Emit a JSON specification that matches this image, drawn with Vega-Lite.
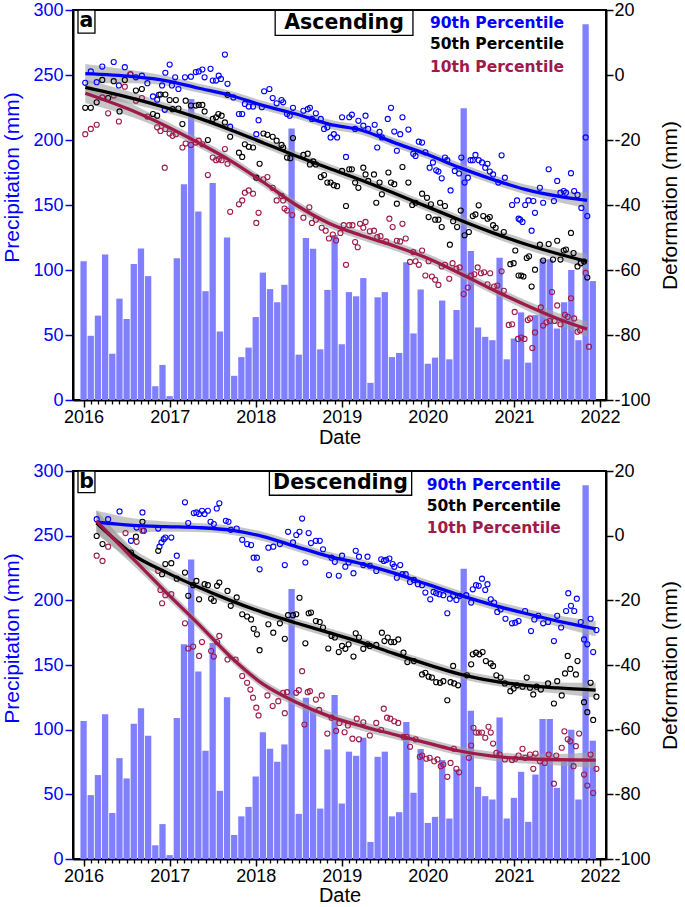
{
"$schema": "https://vega.github.io/schema/vega-lite/v6.json",
"background": "white",
"padding": {"left": 0, "top": 0, "right": 0, "bottom": 0},
"spacing": 13,
"config": {"view": {"stroke": "#000", "strokeWidth": 2}, "axis": {"labelFont": "Liberation Sans", "titleFont": "Liberation Sans", "grid": false}},
"datasets": {
"precip": [
{"t":2016,"p":106.7},{"t":2016.0833,"p":49.4},{"t":2016.1667,"p":64.9},{"t":2016.25,"p":112},{"t":2016.3333,"p":35.6},{"t":2016.4167,"p":78},{"t":2016.5,"p":62.3},{"t":2016.5833,"p":104.6},{"t":2016.6667,"p":116.5},{"t":2016.75,"p":95.3},{"t":2016.8333,"p":10.6},{"t":2016.9167,"p":27},
{"t":2017,"p":3},{"t":2017.0833,"p":109},{"t":2017.1667,"p":166},{"t":2017.25,"p":231.5},{"t":2017.3333,"p":145},{"t":2017.4167,"p":83.7},{"t":2017.5,"p":167},{"t":2017.5833,"p":52.7},{"t":2017.6667,"p":125},{"t":2017.75,"p":18.6},{"t":2017.8333,"p":33},{"t":2017.9167,"p":40.3},
{"t":2018,"p":63.8},{"t":2018.0833,"p":98},{"t":2018.1667,"p":85.3},{"t":2018.25,"p":75.2},{"t":2018.3333,"p":88.6},{"t":2018.4167,"p":208.8},{"t":2018.5,"p":34.9},{"t":2018.5833,"p":124.6},{"t":2018.6667,"p":116.3},{"t":2018.75,"p":39},{"t":2018.8333,"p":84.7},{"t":2018.9167,"p":126.9},
{"t":2019,"p":42.9},{"t":2019.0833,"p":83},{"t":2019.1667,"p":79.8},{"t":2019.25,"p":93.8},{"t":2019.3333,"p":13.2},{"t":2019.4167,"p":79},{"t":2019.5,"p":83},{"t":2019.5833,"p":33},{"t":2019.6667,"p":36.2},{"t":2019.75,"p":106},{"t":2019.8333,"p":51.2},{"t":2019.9167,"p":85},
{"t":2020,"p":27.9},{"t":2020.0833,"p":32.6},{"t":2020.1667,"p":76.5},{"t":2020.25,"p":31.3},{"t":2020.3333,"p":69.2},{"t":2020.4167,"p":224.5},{"t":2020.5,"p":114.7},{"t":2020.5833,"p":55.8},{"t":2020.6667,"p":48.6},{"t":2020.75,"p":46},{"t":2020.8333,"p":109.5},{"t":2020.9167,"p":31.3},
{"t":2021,"p":47.3},{"t":2021.0833,"p":67.4},{"t":2021.1667,"p":28.7},{"t":2021.25,"p":65.3},{"t":2021.3333,"p":108.3},{"t":2021.4167,"p":108.3},{"t":2021.5,"p":55},{"t":2021.5833,"p":75.2},{"t":2021.6667,"p":100},{"t":2021.75,"p":46},{"t":2021.8333,"p":289},{"t":2021.9167,"p":91.5}
],
"pts": [
{"g":"a","s":"90th","t":2016.019,"v":-2.4},{"g":"a","s":"90th","t":2016.084,"v":1.1},{"g":"a","s":"90th","t":2016.152,"v":-2.2},{"g":"a","s":"90th","t":2016.217,"v":2.6},{"g":"a","s":"90th","t":2016.35,"v":4.0},{"g":"a","s":"90th","t":2016.41,"v":-3.2},{"g":"a","s":"90th","t":2016.479,"v":2.4},{"g":"a","s":"90th","t":2016.544,"v":0.2},{"g":"a","s":"90th","t":2016.608,"v":-0.7},{"g":"a","s":"90th","t":2016.677,"v":-0.2},{"g":"a","s":"90th","t":2016.741,"v":-2.5},{"g":"a","s":"90th","t":2016.806,"v":-6.6},{"g":"a","s":"90th","t":2016.855,"v":-7.6},{"g":"a","s":"90th","t":2016.874,"v":-6.1},{"g":"a","s":"90th","t":2016.912,"v":-3.2},{"g":"a","s":"90th","t":2016.943,"v":-10.7},{"g":"a","s":"90th","t":2016.95,"v":0.7},{"g":"a","s":"90th","t":2017.0,"v":3.2},{"g":"a","s":"90th","t":2017.026,"v":-3.2},{"g":"a","s":"90th","t":2017.064,"v":-0.7},{"g":"a","s":"90th","t":2017.102,"v":-4.3},{"g":"a","s":"90th","t":2017.178,"v":-0.7},{"g":"a","s":"90th","t":2017.247,"v":-0.5},{"g":"a","s":"90th","t":2017.304,"v":0.9},{"g":"a","s":"90th","t":2017.338,"v":1.1},{"g":"a","s":"90th","t":2017.38,"v":1.7},{"g":"a","s":"90th","t":2017.406,"v":-0.7},{"g":"a","s":"90th","t":2017.475,"v":1.9},{"g":"a","s":"90th","t":2017.501,"v":-1.7},{"g":"a","s":"90th","t":2017.539,"v":-1.7},{"g":"a","s":"90th","t":2017.57,"v":-0.2},{"g":"a","s":"90th","t":2017.596,"v":-1.2},{"g":"a","s":"90th","t":2017.642,"v":6.3},{"g":"a","s":"90th","t":2017.672,"v":-2.7},{"g":"a","s":"90th","t":2017.703,"v":-15.9},{"g":"a","s":"90th","t":2017.741,"v":-6.9},{"g":"a","s":"90th","t":2017.805,"v":-12.0},{"g":"a","s":"90th","t":2017.843,"v":-12.0},{"g":"a","s":"90th","t":2017.874,"v":-8.9},{"g":"a","s":"90th","t":2017.919,"v":-9.7},{"g":"a","s":"90th","t":2017.969,"v":-9.7},{"g":"a","s":"90th","t":2018.007,"v":-18.2},{"g":"a","s":"90th","t":2018.033,"v":-13.9},{"g":"a","s":"90th","t":2018.071,"v":-9.9},{"g":"a","s":"90th","t":2018.098,"v":-5.0},{"g":"a","s":"90th","t":2018.159,"v":-4.3},{"g":"a","s":"90th","t":2018.197,"v":-7.1},{"g":"a","s":"90th","t":2018.243,"v":-8.7},{"g":"a","s":"90th","t":2018.3,"v":-7.7},{"g":"a","s":"90th","t":2018.319,"v":-8.4},{"g":"a","s":"90th","t":2018.364,"v":-12.0},{"g":"a","s":"90th","t":2018.395,"v":-12.5},{"g":"a","s":"90th","t":2018.433,"v":-10.1},{"g":"a","s":"90th","t":2018.554,"v":-11.0},{"g":"a","s":"90th","t":2018.604,"v":-10.5},{"g":"a","s":"90th","t":2018.63,"v":-10.1},{"g":"a","s":"90th","t":2018.653,"v":-13.5},{"g":"a","s":"90th","t":2018.699,"v":-11.8},{"g":"a","s":"90th","t":2018.756,"v":-13.5},{"g":"a","s":"90th","t":2018.794,"v":-16.6},{"g":"a","s":"90th","t":2018.832,"v":-16.1},{"g":"a","s":"90th","t":2018.87,"v":-19.2},{"g":"a","s":"90th","t":2018.908,"v":-18.2},{"g":"a","s":"90th","t":2018.946,"v":-19.2},{"g":"a","s":"90th","t":2019.003,"v":-13.0},{"g":"a","s":"90th","t":2019.049,"v":-25.2},{"g":"a","s":"90th","t":2019.087,"v":-13.0},{"g":"a","s":"90th","t":2019.117,"v":-12.2},{"g":"a","s":"90th","t":2019.155,"v":-16.6},{"g":"a","s":"90th","t":2019.193,"v":-14.1},{"g":"a","s":"90th","t":2019.25,"v":-15.6},{"g":"a","s":"90th","t":2019.276,"v":-12.5},{"g":"a","s":"90th","t":2019.307,"v":-16.6},
{"g":"a","s":"90th","t":2019.382,"v":-15.3},{"g":"a","s":"90th","t":2019.412,"v":-22.3},{"g":"a","s":"90th","t":2019.439,"v":-17.5},{"g":"a","s":"90th","t":2019.466,"v":-19.2},{"g":"a","s":"90th","t":2019.534,"v":-13.5},{"g":"a","s":"90th","t":2019.572,"v":-10.1},{"g":"a","s":"90th","t":2019.61,"v":-17.4},{"g":"a","s":"90th","t":2019.64,"v":-23.3},{"g":"a","s":"90th","t":2019.679,"v":-18.2},{"g":"a","s":"90th","t":2019.705,"v":-13.0},{"g":"a","s":"90th","t":2019.774,"v":-16.8},{"g":"a","s":"90th","t":2019.831,"v":-24.2},{"g":"a","s":"90th","t":2019.857,"v":-24.9},{"g":"a","s":"90th","t":2019.895,"v":-20.5},{"g":"a","s":"90th","t":2019.933,"v":-20.8},{"g":"a","s":"90th","t":2019.971,"v":-23.8},{"g":"a","s":"90th","t":2020.021,"v":-28.5},{"g":"a","s":"90th","t":2020.059,"v":-26.9},{"g":"a","s":"90th","t":2020.097,"v":-29.3},{"g":"a","s":"90th","t":2020.123,"v":-29.7},{"g":"a","s":"90th","t":2020.161,"v":-31.8},{"g":"a","s":"90th","t":2020.199,"v":-25.4},{"g":"a","s":"90th","t":2020.226,"v":-26.2},{"g":"a","s":"90th","t":2020.264,"v":-35.5},{"g":"a","s":"90th","t":2020.313,"v":-29.5},{"g":"a","s":"90th","t":2020.363,"v":-30.3},{"g":"a","s":"90th","t":2020.389,"v":-25.4},{"g":"a","s":"90th","t":2020.427,"v":-33.1},{"g":"a","s":"90th","t":2020.465,"v":-31.6},{"g":"a","s":"90th","t":2020.496,"v":-26.2},{"g":"a","s":"90th","t":2020.522,"v":-26.2},{"g":"a","s":"90th","t":2020.553,"v":-24.6},{"g":"a","s":"90th","t":2020.591,"v":-26.2},{"g":"a","s":"90th","t":2020.629,"v":-26.9},{"g":"a","s":"90th","t":2020.667,"v":-28.5},{"g":"a","s":"90th","t":2020.693,"v":-27.3},{"g":"a","s":"90th","t":2020.72,"v":-29.7},{"g":"a","s":"90th","t":2020.758,"v":-30.6},{"g":"a","s":"90th","t":2020.819,"v":-33.1},{"g":"a","s":"90th","t":2020.857,"v":-24.7},{"g":"a","s":"90th","t":2020.895,"v":-31.6},{"g":"a","s":"90th","t":2020.979,"v":-40.0},{"g":"a","s":"90th","t":2021.036,"v":-38.6},{"g":"a","s":"90th","t":2021.131,"v":-40.0},{"g":"a","s":"90th","t":2021.169,"v":-38.6},{"g":"a","s":"90th","t":2021.226,"v":-38.8},{"g":"a","s":"90th","t":2021.302,"v":-34.7},{"g":"a","s":"90th","t":2021.34,"v":-39.3},{"g":"a","s":"90th","t":2021.404,"v":-29.0},{"g":"a","s":"90th","t":2021.465,"v":-38.8},{"g":"a","s":"90th","t":2021.503,"v":-32.6},{"g":"a","s":"90th","t":2021.541,"v":-36.2},{"g":"a","s":"90th","t":2021.579,"v":-35.7},{"g":"a","s":"90th","t":2021.605,"v":-36.2},{"g":"a","s":"90th","t":2021.663,"v":-30.2},{"g":"a","s":"90th","t":2021.7,"v":-35.7},{"g":"a","s":"90th","t":2021.739,"v":-36.9},{"g":"a","s":"90th","t":2021.784,"v":-40.9},{"g":"a","s":"90th","t":2021.834,"v":-19.2},{"g":"a","s":"90th","t":2021.055,"v":-44.2},{"g":"a","s":"90th","t":2021.073,"v":-44.5},{"g":"a","s":"90th","t":2021.1,"v":-45.2},{"g":"a","s":"90th","t":2021.206,"v":-47.9},{"g":"a","s":"90th","t":2021.245,"v":-42.4},{"g":"a","s":"90th","t":2021.853,"v":-43.4},
{"g":"a","s":"50th","t":2016.019,"v":-10.1},{"g":"a","s":"50th","t":2016.084,"v":-10.1},{"g":"a","s":"50th","t":2016.152,"v":-8.4},{"g":"a","s":"50th","t":2016.217,"v":-1.5},{"g":"a","s":"50th","t":2016.285,"v":-7.1},{"g":"a","s":"50th","t":2016.35,"v":-1.9},{"g":"a","s":"50th","t":2016.418,"v":-11.2},{"g":"a","s":"50th","t":2016.479,"v":-1.5},{"g":"a","s":"50th","t":2016.608,"v":-4.8},{"g":"a","s":"50th","t":2016.677,"v":-4.3},{"g":"a","s":"50th","t":2016.806,"v":-12.0},{"g":"a","s":"50th","t":2016.855,"v":-12.5},{"g":"a","s":"50th","t":2016.893,"v":-6.0},{"g":"a","s":"50th","t":2016.95,"v":-6.0},{"g":"a","s":"50th","t":2017.0,"v":-7.7},{"g":"a","s":"50th","t":2017.034,"v":-10.5},{"g":"a","s":"50th","t":2017.072,"v":-7.7},{"g":"a","s":"50th","t":2017.102,"v":-10.3},{"g":"a","s":"50th","t":2017.148,"v":-15.1},{"g":"a","s":"50th","t":2017.186,"v":-7.9},{"g":"a","s":"50th","t":2017.247,"v":-9.4},{"g":"a","s":"50th","t":2017.304,"v":-9.4},{"g":"a","s":"50th","t":2017.338,"v":-9.2},{"g":"a","s":"50th","t":2017.38,"v":-9.2},{"g":"a","s":"50th","t":2017.406,"v":-11.2},{"g":"a","s":"50th","t":2017.444,"v":-20.0},{"g":"a","s":"50th","t":2017.501,"v":-13.5},{"g":"a","s":"50th","t":2017.539,"v":-13.0},{"g":"a","s":"50th","t":2017.566,"v":-12.0},{"g":"a","s":"50th","t":2017.604,"v":-12.5},{"g":"a","s":"50th","t":2017.642,"v":-14.6},{"g":"a","s":"50th","t":2017.672,"v":-6.1},{"g":"a","s":"50th","t":2017.703,"v":-19.0},{"g":"a","s":"50th","t":2017.805,"v":-23.9},{"g":"a","s":"50th","t":2017.843,"v":-25.2},{"g":"a","s":"50th","t":2017.874,"v":-21.3},{"g":"a","s":"50th","t":2017.919,"v":-22.1},{"g":"a","s":"50th","t":2017.969,"v":-22.3},{"g":"a","s":"50th","t":2018.007,"v":-31.6},{"g":"a","s":"50th","t":2018.045,"v":-27.3},{"g":"a","s":"50th","t":2018.09,"v":-18.0},{"g":"a","s":"50th","t":2018.136,"v":-18.4},{"g":"a","s":"50th","t":2018.197,"v":-19.0},{"g":"a","s":"50th","t":2018.243,"v":-20.2},{"g":"a","s":"50th","t":2018.3,"v":-21.5},{"g":"a","s":"50th","t":2018.319,"v":-22.3},{"g":"a","s":"50th","t":2018.364,"v":-25.4},{"g":"a","s":"50th","t":2018.402,"v":-25.6},{"g":"a","s":"50th","t":2018.433,"v":-19.4},{"g":"a","s":"50th","t":2018.554,"v":-24.6},{"g":"a","s":"50th","t":2018.604,"v":-24.2},{"g":"a","s":"50th","t":2018.63,"v":-27.5},{"g":"a","s":"50th","t":2018.668,"v":-26.6},{"g":"a","s":"50th","t":2018.699,"v":-27.5},{"g":"a","s":"50th","t":2018.756,"v":-31.4},{"g":"a","s":"50th","t":2018.794,"v":-30.8},{"g":"a","s":"50th","t":2018.832,"v":-33.1},{"g":"a","s":"50th","t":2018.87,"v":-33.1},{"g":"a","s":"50th","t":2018.908,"v":-33.9},{"g":"a","s":"50th","t":2018.946,"v":-34.2},{"g":"a","s":"50th","t":2019.003,"v":-29.5},{"g":"a","s":"50th","t":2019.049,"v":-40.3},{"g":"a","s":"50th","t":2019.087,"v":-29.0},{"g":"a","s":"50th","t":2019.117,"v":-29.0},{"g":"a","s":"50th","t":2019.155,"v":-33.1},{"g":"a","s":"50th","t":2019.193,"v":-34.7},{"g":"a","s":"50th","t":2019.25,"v":-28.5},{"g":"a","s":"50th","t":2019.276,"v":-30.6},{"g":"a","s":"50th","t":2019.307,"v":-32.6},
{"g":"a","s":"50th","t":2019.374,"v":-30.6},{"g":"a","s":"50th","t":2019.401,"v":-39.3},{"g":"a","s":"50th","t":2019.439,"v":-33.1},{"g":"a","s":"50th","t":2019.466,"v":-36.7},{"g":"a","s":"50th","t":2019.542,"v":-30.0},{"g":"a","s":"50th","t":2019.572,"v":-33.1},{"g":"a","s":"50th","t":2019.61,"v":-33.6},{"g":"a","s":"50th","t":2019.64,"v":-39.6},{"g":"a","s":"50th","t":2019.705,"v":-28.3},{"g":"a","s":"50th","t":2019.774,"v":-33.1},{"g":"a","s":"50th","t":2019.819,"v":-40.0},{"g":"a","s":"50th","t":2019.857,"v":-39.3},{"g":"a","s":"50th","t":2019.933,"v":-36.5},{"g":"a","s":"50th","t":2019.99,"v":-37.8},{"g":"a","s":"50th","t":2020.036,"v":-39.8},{"g":"a","s":"50th","t":2020.142,"v":-39.3},{"g":"a","s":"50th","t":2020.199,"v":-40.3},
{"g":"a","s":"50th","t":2020.009,"v":-43.7},{"g":"a","s":"50th","t":2020.085,"v":-44.5},{"g":"a","s":"50th","t":2020.123,"v":-44.5},{"g":"a","s":"50th","t":2020.161,"v":-46.8},{"g":"a","s":"50th","t":2020.256,"v":-52.2},{"g":"a","s":"50th","t":2020.294,"v":-45.0},{"g":"a","s":"50th","t":2020.34,"v":-46.8},{"g":"a","s":"50th","t":2020.382,"v":-41.7},{"g":"a","s":"50th","t":2020.427,"v":-49.3},{"g":"a","s":"50th","t":2020.477,"v":-48.3},{"g":"a","s":"50th","t":2020.522,"v":-43.4},{"g":"a","s":"50th","t":2020.553,"v":-42.9},{"g":"a","s":"50th","t":2020.591,"v":-40.1},{"g":"a","s":"50th","t":2020.644,"v":-43.4},{"g":"a","s":"50th","t":2020.693,"v":-44.2},{"g":"a","s":"50th","t":2020.72,"v":-43.7},{"g":"a","s":"50th","t":2020.758,"v":-46.2},{"g":"a","s":"50th","t":2020.788,"v":-47.0},{"g":"a","s":"50th","t":2020.883,"v":-48.3},{"g":"a","s":"50th","t":2020.959,"v":-58.2},{"g":"a","s":"50th","t":2020.997,"v":-57.9},{"g":"a","s":"50th","t":2021.016,"v":-54.0},{"g":"a","s":"50th","t":2021.054,"v":-61.7},{"g":"a","s":"50th","t":2021.085,"v":-61.7},{"g":"a","s":"50th","t":2021.111,"v":-62.0},{"g":"a","s":"50th","t":2021.149,"v":-56.3},{"g":"a","s":"50th","t":2021.176,"v":-55.8},{"g":"a","s":"50th","t":2021.206,"v":-65.1},{"g":"a","s":"50th","t":2021.245,"v":-59.9},{"g":"a","s":"50th","t":2021.302,"v":-52.2},{"g":"a","s":"50th","t":2021.34,"v":-57.1},{"g":"a","s":"50th","t":2021.404,"v":-52.0},{"g":"a","s":"50th","t":2021.454,"v":-56.8},{"g":"a","s":"50th","t":2021.503,"v":-51.0},{"g":"a","s":"50th","t":2021.541,"v":-56.8},{"g":"a","s":"50th","t":2021.579,"v":-54.0},{"g":"a","s":"50th","t":2021.605,"v":-53.7},{"g":"a","s":"50th","t":2021.663,"v":-48.6},{"g":"a","s":"50th","t":2021.693,"v":-54.8},{"g":"a","s":"50th","t":2021.739,"v":-58.9},{"g":"a","s":"50th","t":2021.777,"v":-57.9},{"g":"a","s":"50th","t":2021.815,"v":-57.4},{"g":"a","s":"50th","t":2021.853,"v":-62.3},
{"g":"a","s":"10th","t":2016.019,"v":-18.2},{"g":"a","s":"10th","t":2016.084,"v":-16.6},{"g":"a","s":"10th","t":2016.152,"v":-15.3},{"g":"a","s":"10th","t":2016.217,"v":-6.9},{"g":"a","s":"10th","t":2016.285,"v":-11.8},{"g":"a","s":"10th","t":2016.35,"v":-6.3},{"g":"a","s":"10th","t":2016.41,"v":-14.3},{"g":"a","s":"10th","t":2016.479,"v":-3.6},{"g":"a","s":"10th","t":2016.544,"v":0.2},{"g":"a","s":"10th","t":2016.608,"v":-7.9},{"g":"a","s":"10th","t":2016.677,"v":-7.1},{"g":"a","s":"10th","t":2016.741,"v":-12.8},{"g":"a","s":"10th","t":2016.855,"v":-16.1},{"g":"a","s":"10th","t":2016.893,"v":-17.2},{"g":"a","s":"10th","t":2016.943,"v":-28.5},{"g":"a","s":"10th","t":2016.95,"v":-16.6},{"g":"a","s":"10th","t":2017.0,"v":-18.0},{"g":"a","s":"10th","t":2017.034,"v":-18.7},{"g":"a","s":"10th","t":2017.072,"v":-18.2},{"g":"a","s":"10th","t":2017.148,"v":-22.3},{"g":"a","s":"10th","t":2017.186,"v":-21.1},{"g":"a","s":"10th","t":2017.247,"v":-21.5},{"g":"a","s":"10th","t":2017.304,"v":-20.8},{"g":"a","s":"10th","t":2017.338,"v":-20.2},{"g":"a","s":"10th","t":2017.38,"v":-21.3},{"g":"a","s":"10th","t":2017.444,"v":-30.8},{"g":"a","s":"10th","t":2017.501,"v":-25.4},{"g":"a","s":"10th","t":2017.539,"v":-26.2},{"g":"a","s":"10th","t":2017.57,"v":-25.9},{"g":"a","s":"10th","t":2017.604,"v":-26.2},{"g":"a","s":"10th","t":2017.642,"v":-22.8},{"g":"a","s":"10th","t":2017.672,"v":-27.3},{"g":"a","s":"10th","t":2017.805,"v":-39.8},{"g":"a","s":"10th","t":2017.843,"v":-38.6},{"g":"a","s":"10th","t":2017.874,"v":-36.2},{"g":"a","s":"10th","t":2017.919,"v":-35.5},{"g":"a","s":"10th","t":2017.969,"v":-36.5},{"g":"a","s":"10th","t":2018.09,"v":-32.1},{"g":"a","s":"10th","t":2018.136,"v":-31.4},{"g":"a","s":"10th","t":2018.197,"v":-34.7},{"g":"a","s":"10th","t":2018.243,"v":-38.6},{"g":"a","s":"10th","t":2018.3,"v":-37.2},{"g":"a","s":"10th","t":2018.319,"v":-38.6},
{"g":"a","s":"10th","t":2017.703,"v":-42.1},{"g":"a","s":"10th","t":2018.007,"v":-45.5},{"g":"a","s":"10th","t":2018.033,"v":-42.4},{"g":"a","s":"10th","t":2018.335,"v":-41.1},{"g":"a","s":"10th","t":2018.364,"v":-41.7},{"g":"a","s":"10th","t":2018.425,"v":-43.1},{"g":"a","s":"10th","t":2018.554,"v":-43.9},{"g":"a","s":"10th","t":2018.623,"v":-40.7},{"g":"a","s":"10th","t":2018.653,"v":-45.5},{"g":"a","s":"10th","t":2018.699,"v":-44.5},{"g":"a","s":"10th","t":2018.767,"v":-47.0},{"g":"a","s":"10th","t":2018.813,"v":-47.9},{"g":"a","s":"10th","t":2018.851,"v":-50.3},{"g":"a","s":"10th","t":2018.896,"v":-49.1},{"g":"a","s":"10th","t":2018.934,"v":-50.9},{"g":"a","s":"10th","t":2018.984,"v":-48.6},{"g":"a","s":"10th","t":2019.022,"v":-46.2},{"g":"a","s":"10th","t":2019.049,"v":-58.4},{"g":"a","s":"10th","t":2019.087,"v":-46.2},{"g":"a","s":"10th","t":2019.124,"v":-46.2},{"g":"a","s":"10th","t":2019.155,"v":-51.4},{"g":"a","s":"10th","t":2019.185,"v":-53.0},{"g":"a","s":"10th","t":2019.212,"v":-45.8},{"g":"a","s":"10th","t":2019.25,"v":-47.0},{"g":"a","s":"10th","t":2019.276,"v":-45.2},{"g":"a","s":"10th","t":2019.326,"v":-48.1},
{"g":"a","s":"10th","t":2019.374,"v":-47.9},{"g":"a","s":"10th","t":2019.412,"v":-49.9},{"g":"a","s":"10th","t":2019.45,"v":-49.6},{"g":"a","s":"10th","t":2019.515,"v":-51.2},{"g":"a","s":"10th","t":2019.553,"v":-44.2},{"g":"a","s":"10th","t":2019.591,"v":-46.8},{"g":"a","s":"10th","t":2019.64,"v":-51.0},{"g":"a","s":"10th","t":2019.679,"v":-51.2},{"g":"a","s":"10th","t":2019.705,"v":-45.8},{"g":"a","s":"10th","t":2019.743,"v":-50.3},{"g":"a","s":"10th","t":2019.793,"v":-57.5},{"g":"a","s":"10th","t":2019.831,"v":-54.5},{"g":"a","s":"10th","t":2019.857,"v":-57.3},{"g":"a","s":"10th","t":2019.895,"v":-58.4},{"g":"a","s":"10th","t":2019.933,"v":-54.0},{"g":"a","s":"10th","t":2019.971,"v":-61.7},{"g":"a","s":"10th","t":2020.009,"v":-57.3},{"g":"a","s":"10th","t":2020.047,"v":-62.0},{"g":"a","s":"10th","t":2020.085,"v":-63.0},{"g":"a","s":"10th","t":2020.123,"v":-64.6},{"g":"a","s":"10th","t":2020.161,"v":-58.9},{"g":"a","s":"10th","t":2020.199,"v":-58.4},{"g":"a","s":"10th","t":2020.249,"v":-62.7},{"g":"a","s":"10th","t":2020.287,"v":-57.9},{"g":"a","s":"10th","t":2020.332,"v":-59.6},{"g":"a","s":"10th","t":2020.37,"v":-59.2},{"g":"a","s":"10th","t":2020.416,"v":-67.4},{"g":"a","s":"10th","t":2020.465,"v":-65.4},{"g":"a","s":"10th","t":2020.503,"v":-61.7},{"g":"a","s":"10th","t":2020.541,"v":-61.3},{"g":"a","s":"10th","t":2020.579,"v":-59.2},{"g":"a","s":"10th","t":2020.617,"v":-61.0},{"g":"a","s":"10th","t":2020.655,"v":-60.7},{"g":"a","s":"10th","t":2020.693,"v":-64.4},{"g":"a","s":"10th","t":2020.724,"v":-61.0},{"g":"a","s":"10th","t":2020.769,"v":-65.1},{"g":"a","s":"10th","t":2020.807,"v":-64.8},{"g":"a","s":"10th","t":2020.857,"v":-60.4},{"g":"a","s":"10th","t":2020.883,"v":-66.4},{"g":"a","s":"10th","t":2020.94,"v":-76.9},{"g":"a","s":"10th","t":2020.979,"v":-76.7},{"g":"a","s":"10th","t":2021.009,"v":-72.9},{"g":"a","s":"10th","t":2021.047,"v":-81.2},{"g":"a","s":"10th","t":2021.085,"v":-80.8},{"g":"a","s":"10th","t":2021.123,"v":-81.2},{"g":"a","s":"10th","t":2021.161,"v":-75.4},{"g":"a","s":"10th","t":2021.187,"v":-74.9},{"g":"a","s":"10th","t":2021.214,"v":-84.0},{"g":"a","s":"10th","t":2021.245,"v":-79.2},{"g":"a","s":"10th","t":2021.313,"v":-71.5},{"g":"a","s":"10th","t":2021.34,"v":-77.1},{"g":"a","s":"10th","t":2021.378,"v":-76.1},{"g":"a","s":"10th","t":2021.416,"v":-75.7},{"g":"a","s":"10th","t":2021.442,"v":-66.8},{"g":"a","s":"10th","t":2021.473,"v":-75.7},{"g":"a","s":"10th","t":2021.503,"v":-70.9},{"g":"a","s":"10th","t":2021.541,"v":-76.7},{"g":"a","s":"10th","t":2021.594,"v":-73.8},{"g":"a","s":"10th","t":2021.625,"v":-74.4},{"g":"a","s":"10th","t":2021.663,"v":-68.7},{"g":"a","s":"10th","t":2021.7,"v":-74.9},{"g":"a","s":"10th","t":2021.739,"v":-79.0},{"g":"a","s":"10th","t":2021.769,"v":-78.5},{"g":"a","s":"10th","t":2021.834,"v":-60.9},{"g":"a","s":"10th","t":2021.872,"v":-83.6},
{"g":"b","s":"90th","t":2016.152,"v":5.1},{"g":"b","s":"90th","t":2016.285,"v":5.1},{"g":"b","s":"90th","t":2016.418,"v":7.5},{"g":"b","s":"90th","t":2016.551,"v":-1.6},{"g":"b","s":"90th","t":2016.616,"v":2.5},{"g":"b","s":"90th","t":2016.684,"v":7.2},{"g":"b","s":"90th","t":2016.7,"v":1.5},{"g":"b","s":"90th","t":2016.867,"v":2.2},{"g":"b","s":"90th","t":2016.882,"v":-3.4},{"g":"b","s":"90th","t":2016.905,"v":-2.1},{"g":"b","s":"90th","t":2016.931,"v":-1.1},{"g":"b","s":"90th","t":2016.95,"v":-0.6},{"g":"b","s":"90th","t":2017.019,"v":-0.6},{"g":"b","s":"90th","t":2017.083,"v":-6.2},{"g":"b","s":"90th","t":2017.178,"v":10.3},{"g":"b","s":"90th","t":2017.216,"v":3.9},{"g":"b","s":"90th","t":2017.281,"v":7.0},{"g":"b","s":"90th","t":2017.311,"v":7.2},{"g":"b","s":"90th","t":2017.342,"v":6.7},{"g":"b","s":"90th","t":2017.376,"v":7.7},{"g":"b","s":"90th","t":2017.406,"v":6.7},{"g":"b","s":"90th","t":2017.444,"v":7.7},{"g":"b","s":"90th","t":2017.475,"v":4.3},{"g":"b","s":"90th","t":2017.513,"v":3.6},{"g":"b","s":"90th","t":2017.547,"v":8.4},{"g":"b","s":"90th","t":2017.577,"v":10.0},{"g":"b","s":"90th","t":2017.653,"v":4.6},{"g":"b","s":"90th","t":2017.684,"v":4.3},{"g":"b","s":"90th","t":2017.71,"v":1.8},{"g":"b","s":"90th","t":2017.779,"v":2.2},{"g":"b","s":"90th","t":2017.843,"v":-1.3},{"g":"b","s":"90th","t":2017.9,"v":-2.6},{"g":"b","s":"90th","t":2017.946,"v":-2.9},{"g":"b","s":"90th","t":2017.976,"v":-6.8},{"g":"b","s":"90th","t":2018.014,"v":-6.8},{"g":"b","s":"90th","t":2018.045,"v":-10.4},{"g":"b","s":"90th","t":2018.147,"v":-3.7},{"g":"b","s":"90th","t":2018.204,"v":-3.4},{"g":"b","s":"90th","t":2018.281,"v":-2.6},{"g":"b","s":"90th","t":2018.338,"v":-9.1},{"g":"b","s":"90th","t":2018.376,"v":1.2},{"g":"b","s":"90th","t":2018.433,"v":-2.1},{"g":"b","s":"90th","t":2018.471,"v":0.2},{"g":"b","s":"90th","t":2018.509,"v":1.2},{"g":"b","s":"90th","t":2018.539,"v":5.3},{"g":"b","s":"90th","t":2018.577,"v":-8.3},{"g":"b","s":"90th","t":2018.615,"v":0.8},{"g":"b","s":"90th","t":2018.642,"v":-2.3},{"g":"b","s":"90th","t":2018.699,"v":-1.6},{"g":"b","s":"90th","t":2018.744,"v":-1.6},{"g":"b","s":"90th","t":2018.782,"v":-4.2},{"g":"b","s":"90th","t":2018.851,"v":-12.2},{"g":"b","s":"90th","t":2018.881,"v":-6.8},{"g":"b","s":"90th","t":2018.919,"v":-8.1},{"g":"b","s":"90th","t":2018.965,"v":-12.4},{"g":"b","s":"90th","t":2019.003,"v":-6.2},{"g":"b","s":"90th","t":2019.041,"v":-9.6},{"g":"b","s":"90th","t":2019.079,"v":-8.3},{"g":"b","s":"90th","t":2019.136,"v":-11.6},{"g":"b","s":"90th","t":2019.162,"v":-4.7},{"g":"b","s":"90th","t":2019.2,"v":-6.5},{"g":"b","s":"90th","t":2019.25,"v":-9.1},{"g":"b","s":"90th","t":2019.299,"v":-6.5},{"g":"b","s":"90th","t":2019.326,"v":-9.3},
{"g":"b","s":"90th","t":2019.401,"v":-10.9},{"g":"b","s":"90th","t":2019.458,"v":-7.3},{"g":"b","s":"90th","t":2019.488,"v":-7.8},{"g":"b","s":"90th","t":2019.515,"v":-7.5},{"g":"b","s":"90th","t":2019.553,"v":-7.1},{"g":"b","s":"90th","t":2019.591,"v":-8.8},{"g":"b","s":"90th","t":2019.61,"v":-9.6},{"g":"b","s":"90th","t":2019.64,"v":-13.0},{"g":"b","s":"90th","t":2019.679,"v":-9.1},{"g":"b","s":"90th","t":2019.705,"v":-11.9},{"g":"b","s":"90th","t":2019.743,"v":-11.9},{"g":"b","s":"90th","t":2019.793,"v":-14.3},{"g":"b","s":"90th","t":2019.838,"v":-13.7},{"g":"b","s":"90th","t":2019.884,"v":-15.0},{"g":"b","s":"90th","t":2019.933,"v":-15.3},{"g":"b","s":"90th","t":2019.971,"v":-17.6},{"g":"b","s":"90th","t":2020.028,"v":-19.7},{"g":"b","s":"90th","t":2020.066,"v":-17.4},{"g":"b","s":"90th","t":2020.097,"v":-17.8},{"g":"b","s":"90th","t":2020.135,"v":-18.1},{"g":"b","s":"90th","t":2020.18,"v":-18.4},{"g":"b","s":"90th","t":2020.226,"v":-24.0},{"g":"b","s":"90th","t":2020.256,"v":-19.5},{"g":"b","s":"90th","t":2020.294,"v":-18.6},{"g":"b","s":"90th","t":2020.332,"v":-19.9},{"g":"b","s":"90th","t":2020.37,"v":-18.6},{"g":"b","s":"90th","t":2020.446,"v":-18.4},{"g":"b","s":"90th","t":2020.503,"v":-20.7},{"g":"b","s":"90th","t":2020.522,"v":-16.6},{"g":"b","s":"90th","t":2020.56,"v":-15.3},{"g":"b","s":"90th","t":2020.591,"v":-15.5},{"g":"b","s":"90th","t":2020.629,"v":-13.3},{"g":"b","s":"90th","t":2020.667,"v":-16.8},{"g":"b","s":"90th","t":2020.693,"v":-15.0},{"g":"b","s":"90th","t":2020.731,"v":-19.7},{"g":"b","s":"90th","t":2020.769,"v":-20.7},{"g":"b","s":"90th","t":2020.807,"v":-23.6},{"g":"b","s":"90th","t":2020.845,"v":-22.8},{"g":"b","s":"90th","t":2020.902,"v":-25.7},{"g":"b","s":"90th","t":2020.978,"v":-27.1},{"g":"b","s":"90th","t":2021.016,"v":-26.9},{"g":"b","s":"90th","t":2021.054,"v":-26.4},{"g":"b","s":"90th","t":2021.13,"v":-23.3},{"g":"b","s":"90th","t":2021.199,"v":-29.5},{"g":"b","s":"90th","t":2021.237,"v":-25.9},{"g":"b","s":"90th","t":2021.283,"v":-24.8},{"g":"b","s":"90th","t":2021.34,"v":-27.1},{"g":"b","s":"90th","t":2021.397,"v":-26.7},{"g":"b","s":"90th","t":2021.465,"v":-32.6},{"g":"b","s":"90th","t":2021.503,"v":-24.8},{"g":"b","s":"90th","t":2021.549,"v":-28.4},{"g":"b","s":"90th","t":2021.606,"v":-23.3},{"g":"b","s":"90th","t":2021.632,"v":-17.8},{"g":"b","s":"90th","t":2021.663,"v":-21.7},{"g":"b","s":"90th","t":2021.701,"v":-23.3},{"g":"b","s":"90th","t":2021.731,"v":-19.5},{"g":"b","s":"90th","t":2021.777,"v":-26.7},{"g":"b","s":"90th","t":2021.815,"v":-32.1},{"g":"b","s":"90th","t":2021.853,"v":-33.6},{"g":"b","s":"90th","t":2021.891,"v":-25.7},{"g":"b","s":"90th","t":2021.921,"v":-36.0},{"g":"b","s":"90th","t":2021.959,"v":-29.2},
{"g":"b","s":"50th","t":2016.152,"v":-0.1},{"g":"b","s":"50th","t":2016.22,"v":-2.6},{"g":"b","s":"50th","t":2016.551,"v":-5.2},{"g":"b","s":"50th","t":2016.608,"v":-0.3},{"g":"b","s":"50th","t":2016.684,"v":4.3},{"g":"b","s":"50th","t":2016.867,"v":-4.7},{"g":"b","s":"50th","t":2016.912,"v":-11.9},{"g":"b","s":"50th","t":2016.95,"v":-8.8},{"g":"b","s":"50th","t":2017.019,"v":-8.5},{"g":"b","s":"50th","t":2017.083,"v":-13.3},{"g":"b","s":"50th","t":2017.178,"v":-11.4},{"g":"b","s":"50th","t":2017.216,"v":-18.6},{"g":"b","s":"50th","t":2017.273,"v":-15.3},{"g":"b","s":"50th","t":2017.311,"v":-14.0},{"g":"b","s":"50th","t":2017.342,"v":-19.7},{"g":"b","s":"50th","t":2017.406,"v":-15.0},{"g":"b","s":"50th","t":2017.444,"v":-15.3},{"g":"b","s":"50th","t":2017.482,"v":-19.5},{"g":"b","s":"50th","t":2017.513,"v":-20.2},{"g":"b","s":"50th","t":2017.551,"v":-15.5},{"g":"b","s":"50th","t":2017.577,"v":-14.5},{"g":"b","s":"50th","t":2017.672,"v":-17.1},{"g":"b","s":"50th","t":2017.71,"v":-21.7},{"g":"b","s":"50th","t":2017.779,"v":-19.1},{"g":"b","s":"50th","t":2017.843,"v":-24.3},{"g":"b","s":"50th","t":2017.9,"v":-25.0},{"g":"b","s":"50th","t":2017.946,"v":-25.9},{"g":"b","s":"50th","t":2017.976,"v":-28.8},{"g":"b","s":"50th","t":2018.014,"v":-30.5},{"g":"b","s":"50th","t":2018.045,"v":-35.4},{"g":"b","s":"50th","t":2018.147,"v":-27.4},{"g":"b","s":"50th","t":2018.204,"v":-30.0},{"g":"b","s":"50th","t":2018.281,"v":-27.1},{"g":"b","s":"50th","t":2018.338,"v":-31.9},{"g":"b","s":"50th","t":2018.376,"v":-24.6},{"g":"b","s":"50th","t":2018.433,"v":-24.6},{"g":"b","s":"50th","t":2018.471,"v":-24.3},{"g":"b","s":"50th","t":2018.509,"v":-19.2},{"g":"b","s":"50th","t":2018.577,"v":-33.3},{"g":"b","s":"50th","t":2018.615,"v":-24.0},{"g":"b","s":"50th","t":2018.642,"v":-23.8},{"g":"b","s":"50th","t":2018.699,"v":-26.4},{"g":"b","s":"50th","t":2018.744,"v":-26.7},{"g":"b","s":"50th","t":2018.782,"v":-28.4},{"g":"b","s":"50th","t":2018.843,"v":-34.9},{"g":"b","s":"50th","t":2018.881,"v":-31.0},{"g":"b","s":"50th","t":2018.919,"v":-31.5},{"g":"b","s":"50th","t":2018.965,"v":-36.0},{"g":"b","s":"50th","t":2019.003,"v":-34.1},{"g":"b","s":"50th","t":2019.041,"v":-35.0},{"g":"b","s":"50th","t":2019.079,"v":-33.6},{"g":"b","s":"50th","t":2019.136,"v":-37.4},{"g":"b","s":"50th","t":2019.162,"v":-30.2},{"g":"b","s":"50th","t":2019.2,"v":-31.5},{"g":"b","s":"50th","t":2019.25,"v":-35.0},{"g":"b","s":"50th","t":2019.299,"v":-33.6},{"g":"b","s":"50th","t":2019.326,"v":-34.1},
{"g":"b","s":"50th","t":2019.401,"v":-33.8},{"g":"b","s":"50th","t":2019.466,"v":-30.0},{"g":"b","s":"50th","t":2019.496,"v":-32.6},{"g":"b","s":"50th","t":2019.534,"v":-31.5},{"g":"b","s":"50th","t":2019.572,"v":-32.9},{"g":"b","s":"50th","t":2019.61,"v":-32.9},{"g":"b","s":"50th","t":2019.656,"v":-32.1},{"g":"b","s":"50th","t":2019.717,"v":-36.2},{"g":"b","s":"50th","t":2019.762,"v":-39.1},{"g":"b","s":"50th","t":2019.838,"v":-38.8},{"g":"b","s":"50th","t":2020.294,"v":-40.3},{"g":"b","s":"50th","t":2020.522,"v":-36.7},{"g":"b","s":"50th","t":2020.56,"v":-36.2},{"g":"b","s":"50th","t":2020.598,"v":-36.7},{"g":"b","s":"50th","t":2020.636,"v":-36.0},{"g":"b","s":"50th","t":2020.674,"v":-38.8},{"g":"b","s":"50th","t":2020.731,"v":-39.5},{"g":"b","s":"50th","t":2021.625,"v":-37.2},{"g":"b","s":"50th","t":2021.739,"v":-38.8},
{"g":"b","s":"50th","t":2019.933,"v":-42.9},{"g":"b","s":"50th","t":2019.971,"v":-42.4},{"g":"b","s":"50th","t":2020.009,"v":-43.6},{"g":"b","s":"50th","t":2020.047,"v":-43.9},{"g":"b","s":"50th","t":2020.097,"v":-45.3},{"g":"b","s":"50th","t":2020.142,"v":-45.5},{"g":"b","s":"50th","t":2020.18,"v":-45.0},{"g":"b","s":"50th","t":2020.226,"v":-50.9},{"g":"b","s":"50th","t":2020.264,"v":-45.3},{"g":"b","s":"50th","t":2020.306,"v":-45.7},{"g":"b","s":"50th","t":2020.351,"v":-46.3},{"g":"b","s":"50th","t":2020.454,"v":-43.2},{"g":"b","s":"50th","t":2020.503,"v":-39.8},{"g":"b","s":"50th","t":2020.758,"v":-40.3},{"g":"b","s":"50th","t":2020.796,"v":-43.2},{"g":"b","s":"50th","t":2020.845,"v":-43.9},{"g":"b","s":"50th","t":2020.895,"v":-45.7},{"g":"b","s":"50th","t":2020.959,"v":-48.1},{"g":"b","s":"50th","t":2020.997,"v":-47.3},{"g":"b","s":"50th","t":2021.035,"v":-46.3},{"g":"b","s":"50th","t":2021.1,"v":-46.7},{"g":"b","s":"50th","t":2021.149,"v":-43.9},{"g":"b","s":"50th","t":2021.187,"v":-47.0},{"g":"b","s":"50th","t":2021.225,"v":-49.1},{"g":"b","s":"50th","t":2021.264,"v":-46.7},{"g":"b","s":"50th","t":2021.313,"v":-47.6},{"g":"b","s":"50th","t":2021.397,"v":-45.7},{"g":"b","s":"50th","t":2021.465,"v":-51.9},{"g":"b","s":"50th","t":2021.503,"v":-45.0},{"g":"b","s":"50th","t":2021.556,"v":-49.4},{"g":"b","s":"50th","t":2021.594,"v":-42.6},{"g":"b","s":"50th","t":2021.655,"v":-41.2},{"g":"b","s":"50th","t":2021.72,"v":-42.9},{"g":"b","s":"50th","t":2021.815,"v":-51.5},{"g":"b","s":"50th","t":2021.853,"v":-54.6},{"g":"b","s":"50th","t":2021.891,"v":-45.5},{"g":"b","s":"50th","t":2021.921,"v":-57.0},{"g":"b","s":"50th","t":2021.959,"v":-49.8},
{"g":"b","s":"10th","t":2016.152,"v":-6.2},{"g":"b","s":"10th","t":2016.22,"v":-7.8},{"g":"b","s":"10th","t":2016.285,"v":-3.4},{"g":"b","s":"10th","t":2016.487,"v":0.8},{"g":"b","s":"10th","t":2016.616,"v":-1.9},{"g":"b","s":"10th","t":2016.684,"v":1.5},{"g":"b","s":"10th","t":2016.867,"v":-10.9},{"g":"b","s":"10th","t":2016.893,"v":-16.8},{"g":"b","s":"10th","t":2016.912,"v":-20.9},{"g":"b","s":"10th","t":2016.95,"v":-18.4},{"g":"b","s":"10th","t":2017.019,"v":-18.1},{"g":"b","s":"10th","t":2017.178,"v":-27.1},{"g":"b","s":"10th","t":2017.216,"v":-34.9},{"g":"b","s":"10th","t":2017.273,"v":-34.3},{"g":"b","s":"10th","t":2017.342,"v":-37.2},{"g":"b","s":"10th","t":2017.376,"v":-32.9},{"g":"b","s":"10th","t":2017.482,"v":-35.7},{"g":"b","s":"10th","t":2017.513,"v":-37.4},{"g":"b","s":"10th","t":2017.551,"v":-32.9},{"g":"b","s":"10th","t":2017.577,"v":-31.0},{"g":"b","s":"10th","t":2017.672,"v":-38.3},{"g":"b","s":"10th","t":2017.767,"v":-38.3},
{"g":"b","s":"10th","t":2017.843,"v":-43.4},{"g":"b","s":"10th","t":2017.9,"v":-45.5},{"g":"b","s":"10th","t":2017.938,"v":-47.6},{"g":"b","s":"10th","t":2017.969,"v":-50.1},{"g":"b","s":"10th","t":2018.007,"v":-53.2},{"g":"b","s":"10th","t":2018.033,"v":-55.6},{"g":"b","s":"10th","t":2018.136,"v":-49.4},{"g":"b","s":"10th","t":2018.197,"v":-52.7},{"g":"b","s":"10th","t":2018.262,"v":-51.2},{"g":"b","s":"10th","t":2018.319,"v":-48.6},{"g":"b","s":"10th","t":2018.338,"v":-54.9},{"g":"b","s":"10th","t":2018.364,"v":-48.4},{"g":"b","s":"10th","t":2018.471,"v":-48.6},{"g":"b","s":"10th","t":2018.501,"v":-47.8},{"g":"b","s":"10th","t":2018.539,"v":-41.9},{"g":"b","s":"10th","t":2018.566,"v":-58.4},{"g":"b","s":"10th","t":2018.604,"v":-48.4},{"g":"b","s":"10th","t":2018.63,"v":-48.1},{"g":"b","s":"10th","t":2018.699,"v":-50.7},{"g":"b","s":"10th","t":2018.737,"v":-53.9},{"g":"b","s":"10th","t":2018.767,"v":-49.4},{"g":"b","s":"10th","t":2018.832,"v":-61.2},{"g":"b","s":"10th","t":2018.881,"v":-56.3},{"g":"b","s":"10th","t":2018.934,"v":-60.4},{"g":"b","s":"10th","t":2018.972,"v":-57.9},{"g":"b","s":"10th","t":2019.033,"v":-60.8},{"g":"b","s":"10th","t":2019.071,"v":-58.7},{"g":"b","s":"10th","t":2019.124,"v":-62.8},{"g":"b","s":"10th","t":2019.174,"v":-56.6},{"g":"b","s":"10th","t":2019.2,"v":-63.0},{"g":"b","s":"10th","t":2019.25,"v":-57.7},{"g":"b","s":"10th","t":2019.326,"v":-61.8},
{"g":"b","s":"10th","t":2019.401,"v":-57.9},{"g":"b","s":"10th","t":2019.458,"v":-60.1},{"g":"b","s":"10th","t":2019.488,"v":-53.5},{"g":"b","s":"10th","t":2019.526,"v":-56.3},{"g":"b","s":"10th","t":2019.564,"v":-56.6},{"g":"b","s":"10th","t":2019.61,"v":-57.4},{"g":"b","s":"10th","t":2019.656,"v":-57.9},{"g":"b","s":"10th","t":2019.717,"v":-62.2},{"g":"b","s":"10th","t":2019.755,"v":-62.2},{"g":"b","s":"10th","t":2019.793,"v":-65.3},{"g":"b","s":"10th","t":2019.857,"v":-63.0},{"g":"b","s":"10th","t":2019.907,"v":-68.4},{"g":"b","s":"10th","t":2019.933,"v":-68.0},{"g":"b","s":"10th","t":2019.983,"v":-69.0},{"g":"b","s":"10th","t":2020.021,"v":-68.7},{"g":"b","s":"10th","t":2020.074,"v":-69.8},{"g":"b","s":"10th","t":2020.112,"v":-69.2},{"g":"b","s":"10th","t":2020.15,"v":-71.3},{"g":"b","s":"10th","t":2020.18,"v":-70.8},{"g":"b","s":"10th","t":2020.226,"v":-74.6},{"g":"b","s":"10th","t":2020.264,"v":-70.3},{"g":"b","s":"10th","t":2020.302,"v":-65.9},{"g":"b","s":"10th","t":2020.332,"v":-72.1},{"g":"b","s":"10th","t":2020.363,"v":-73.2},{"g":"b","s":"10th","t":2020.477,"v":-68.7},{"g":"b","s":"10th","t":2020.503,"v":-64.9},{"g":"b","s":"10th","t":2020.53,"v":-59.4},{"g":"b","s":"10th","t":2020.56,"v":-60.9},{"g":"b","s":"10th","t":2020.591,"v":-60.9},{"g":"b","s":"10th","t":2020.629,"v":-60.9},{"g":"b","s":"10th","t":2020.667,"v":-62.5},{"g":"b","s":"10th","t":2020.705,"v":-59.1},{"g":"b","s":"10th","t":2020.731,"v":-60.9},{"g":"b","s":"10th","t":2020.758,"v":-64.3},{"g":"b","s":"10th","t":2020.796,"v":-67.2},{"g":"b","s":"10th","t":2020.834,"v":-67.7},{"g":"b","s":"10th","t":2020.895,"v":-69.2},{"g":"b","s":"10th","t":2020.978,"v":-69.4},{"g":"b","s":"10th","t":2021.016,"v":-69.0},{"g":"b","s":"10th","t":2021.054,"v":-68.0},{"g":"b","s":"10th","t":2021.1,"v":-65.9},{"g":"b","s":"10th","t":2021.13,"v":-68.7},{"g":"b","s":"10th","t":2021.187,"v":-67.7},{"g":"b","s":"10th","t":2021.225,"v":-72.1},{"g":"b","s":"10th","t":2021.252,"v":-67.4},{"g":"b","s":"10th","t":2021.302,"v":-69.8},{"g":"b","s":"10th","t":2021.359,"v":-70.3},{"g":"b","s":"10th","t":2021.404,"v":-67.7},{"g":"b","s":"10th","t":2021.465,"v":-76.7},{"g":"b","s":"10th","t":2021.492,"v":-68.0},{"g":"b","s":"10th","t":2021.556,"v":-65.6},{"g":"b","s":"10th","t":2021.587,"v":-60.5},{"g":"b","s":"10th","t":2021.625,"v":-63.0},{"g":"b","s":"10th","t":2021.655,"v":-63.6},{"g":"b","s":"10th","t":2021.693,"v":-71.3},{"g":"b","s":"10th","t":2021.72,"v":-65.1},{"g":"b","s":"10th","t":2021.758,"v":-61.2},{"g":"b","s":"10th","t":2021.815,"v":-73.9},{"g":"b","s":"10th","t":2021.853,"v":-77.3},{"g":"b","s":"10th","t":2021.891,"v":-67.7},{"g":"b","s":"10th","t":2021.921,"v":-79.6},{"g":"b","s":"10th","t":2021.959,"v":-72.1}
],
"fit": [
{"g":"a","s":"90th","t":2016.02,"fit":0.4,"lo":-2.6,"hi":3.4},{"g":"a","s":"90th","t":2016.57,"fit":-0.5,"lo":-2.5,"hi":1.5},{"g":"a","s":"90th","t":2016.95,"fit":-1.7,"lo":-3.2,"hi":-0.2},{"g":"a","s":"90th","t":2017.33,"fit":-4.0,"lo":-5.4,"hi":-2.6},{"g":"a","s":"90th","t":2017.71,"fit":-6.3,"lo":-7.7,"hi":-4.9},{"g":"a","s":"90th","t":2018.09,"fit":-9.4,"lo":-10.8,"hi":-8.0},{"g":"a","s":"90th","t":2018.47,"fit":-12.0,"lo":-13.4,"hi":-10.6},{"g":"a","s":"90th","t":2018.85,"fit":-15.1,"lo":-16.5,"hi":-13.7},{"g":"a","s":"90th","t":2019.23,"fit":-17.0,"lo":-18.4,"hi":-15.6},{"g":"a","s":"90th","t":2019.61,"fit":-20.8,"lo":-22.2,"hi":-19.4},{"g":"a","s":"90th","t":2019.99,"fit":-24.4,"lo":-25.8,"hi":-23.0},{"g":"a","s":"90th","t":2020.37,"fit":-28.5,"lo":-29.9,"hi":-27.1},{"g":"a","s":"90th","t":2020.75,"fit":-32.1,"lo":-33.5,"hi":-30.7},{"g":"a","s":"90th","t":2021.13,"fit":-35.2,"lo":-36.7,"hi":-33.7},{"g":"a","s":"90th","t":2021.51,"fit":-37.3,"lo":-39.1,"hi":-35.5},{"g":"a","s":"90th","t":2021.85,"fit":-38.6,"lo":-41.1,"hi":-36.1},
{"g":"a","s":"50th","t":2016.02,"fit":-3.8,"lo":-6.3,"hi":-1.3},{"g":"a","s":"50th","t":2016.57,"fit":-7.2,"lo":-9.0,"hi":-5.4},{"g":"a","s":"50th","t":2016.95,"fit":-10.0,"lo":-11.5,"hi":-8.5},{"g":"a","s":"50th","t":2017.33,"fit":-13.2,"lo":-14.6,"hi":-11.8},{"g":"a","s":"50th","t":2017.71,"fit":-16.9,"lo":-18.3,"hi":-15.5},{"g":"a","s":"50th","t":2018.09,"fit":-20.9,"lo":-22.3,"hi":-19.5},{"g":"a","s":"50th","t":2018.47,"fit":-24.9,"lo":-26.3,"hi":-23.5},{"g":"a","s":"50th","t":2018.85,"fit":-28.7,"lo":-30.1,"hi":-27.3},{"g":"a","s":"50th","t":2019.23,"fit":-32.4,"lo":-33.8,"hi":-31.0},{"g":"a","s":"50th","t":2019.61,"fit":-36.4,"lo":-37.8,"hi":-35.0},{"g":"a","s":"50th","t":2019.99,"fit":-40.5,"lo":-41.9,"hi":-39.1},{"g":"a","s":"50th","t":2020.37,"fit":-44.6,"lo":-46.0,"hi":-43.2},{"g":"a","s":"50th","t":2020.75,"fit":-48.5,"lo":-49.9,"hi":-47.1},{"g":"a","s":"50th","t":2021.13,"fit":-52.0,"lo":-53.5,"hi":-50.5},{"g":"a","s":"50th","t":2021.51,"fit":-55.0,"lo":-56.7,"hi":-53.3},{"g":"a","s":"50th","t":2021.85,"fit":-57.4,"lo":-59.7,"hi":-55.1},
{"g":"a","s":"10th","t":2016.02,"fit":-5.6,"lo":-8.6,"hi":-2.6},{"g":"a","s":"10th","t":2016.57,"fit":-11.0,"lo":-13.0,"hi":-9.0},{"g":"a","s":"10th","t":2016.95,"fit":-15.6,"lo":-17.1,"hi":-14.1},{"g":"a","s":"10th","t":2017.33,"fit":-20.8,"lo":-22.2,"hi":-19.4},{"g":"a","s":"10th","t":2017.71,"fit":-26.4,"lo":-27.8,"hi":-25.0},{"g":"a","s":"10th","t":2018.09,"fit":-33.0,"lo":-34.4,"hi":-31.6},{"g":"a","s":"10th","t":2018.47,"fit":-40.0,"lo":-41.4,"hi":-38.6},{"g":"a","s":"10th","t":2018.85,"fit":-45.6,"lo":-47.0,"hi":-44.2},{"g":"a","s":"10th","t":2019.23,"fit":-49.4,"lo":-50.8,"hi":-48.0},{"g":"a","s":"10th","t":2019.61,"fit":-52.6,"lo":-54.0,"hi":-51.2},{"g":"a","s":"10th","t":2019.99,"fit":-56.3,"lo":-57.7,"hi":-54.9},{"g":"a","s":"10th","t":2020.37,"fit":-61.0,"lo":-62.4,"hi":-59.6},{"g":"a","s":"10th","t":2020.75,"fit":-66.0,"lo":-67.4,"hi":-64.6},{"g":"a","s":"10th","t":2021.13,"fit":-70.7,"lo":-72.2,"hi":-69.2},{"g":"a","s":"10th","t":2021.51,"fit":-75.0,"lo":-76.8,"hi":-73.2},{"g":"a","s":"10th","t":2021.85,"fit":-78.2,"lo":-80.6,"hi":-75.8},
{"g":"b","s":"90th","t":2016.15,"fit":4.2,"lo":0.7,"hi":7.7},{"g":"b","s":"90th","t":2016.57,"fit":3.2,"lo":1.0,"hi":5.4},{"g":"b","s":"90th","t":2016.95,"fit":2.8,"lo":1.2,"hi":4.4},{"g":"b","s":"90th","t":2017.33,"fit":2.5,"lo":1.1,"hi":3.9},{"g":"b","s":"90th","t":2017.71,"fit":1.7,"lo":0.3,"hi":3.1},{"g":"b","s":"90th","t":2018.09,"fit":-0.3,"lo":-1.7,"hi":1.1},{"g":"b","s":"90th","t":2018.47,"fit":-3.4,"lo":-4.8,"hi":-2.0},{"g":"b","s":"90th","t":2018.85,"fit":-6.4,"lo":-7.8,"hi":-5.0},{"g":"b","s":"90th","t":2019.23,"fit":-8.7,"lo":-10.1,"hi":-7.3},{"g":"b","s":"90th","t":2019.61,"fit":-11.6,"lo":-13.0,"hi":-10.2},{"g":"b","s":"90th","t":2019.99,"fit":-15.0,"lo":-16.4,"hi":-13.6},{"g":"b","s":"90th","t":2020.37,"fit":-18.4,"lo":-19.8,"hi":-17.0},{"g":"b","s":"90th","t":2020.75,"fit":-21.4,"lo":-22.8,"hi":-20.0},{"g":"b","s":"90th","t":2021.13,"fit":-24.0,"lo":-25.5,"hi":-22.5},{"g":"b","s":"90th","t":2021.51,"fit":-26.4,"lo":-28.1,"hi":-24.7},{"g":"b","s":"90th","t":2021.95,"fit":-28.8,"lo":-31.2,"hi":-26.4},
{"g":"b","s":"50th","t":2016.15,"fit":4.0,"lo":0.5,"hi":7.5},{"g":"b","s":"50th","t":2016.38,"fit":-1.6,"lo":-4.2,"hi":1.0},{"g":"b","s":"50th","t":2016.57,"fit":-5.8,"lo":-7.8,"hi":-3.8},{"g":"b","s":"50th","t":2016.95,"fit":-11.2,"lo":-12.8,"hi":-9.6},{"g":"b","s":"50th","t":2017.33,"fit":-15.9,"lo":-17.3,"hi":-14.5},{"g":"b","s":"50th","t":2017.71,"fit":-20.1,"lo":-21.5,"hi":-18.7},{"g":"b","s":"50th","t":2018.09,"fit":-23.8,"lo":-25.2,"hi":-22.4},{"g":"b","s":"50th","t":2018.47,"fit":-27.0,"lo":-28.4,"hi":-25.6},{"g":"b","s":"50th","t":2018.85,"fit":-30.0,"lo":-31.4,"hi":-28.6},{"g":"b","s":"50th","t":2019.23,"fit":-33.0,"lo":-34.4,"hi":-31.6},{"g":"b","s":"50th","t":2019.61,"fit":-36.5,"lo":-37.9,"hi":-35.1},{"g":"b","s":"50th","t":2019.99,"fit":-39.8,"lo":-41.2,"hi":-38.4},{"g":"b","s":"50th","t":2020.37,"fit":-42.8,"lo":-44.2,"hi":-41.4},{"g":"b","s":"50th","t":2020.75,"fit":-44.9,"lo":-46.3,"hi":-43.5},{"g":"b","s":"50th","t":2021.13,"fit":-46.3,"lo":-47.8,"hi":-44.8},{"g":"b","s":"50th","t":2021.51,"fit":-47.1,"lo":-48.8,"hi":-45.4},{"g":"b","s":"50th","t":2021.95,"fit":-47.8,"lo":-50.1,"hi":-45.5},
{"g":"b","s":"10th","t":2016.15,"fit":4.5,"lo":1.0,"hi":8.0},{"g":"b","s":"10th","t":2016.38,"fit":-1.8,"lo":-4.4,"hi":0.8},{"g":"b","s":"10th","t":2016.57,"fit":-7.0,"lo":-9.0,"hi":-5.0},{"g":"b","s":"10th","t":2016.95,"fit":-17.3,"lo":-18.9,"hi":-15.7},{"g":"b","s":"10th","t":2017.33,"fit":-27.2,"lo":-28.7,"hi":-25.7},{"g":"b","s":"10th","t":2017.71,"fit":-37.5,"lo":-38.9,"hi":-36.1},{"g":"b","s":"10th","t":2018.09,"fit":-46.0,"lo":-47.4,"hi":-44.6},{"g":"b","s":"10th","t":2018.47,"fit":-51.5,"lo":-52.9,"hi":-50.1},{"g":"b","s":"10th","t":2018.85,"fit":-55.8,"lo":-57.2,"hi":-54.4},{"g":"b","s":"10th","t":2019.23,"fit":-58.9,"lo":-60.3,"hi":-57.5},{"g":"b","s":"10th","t":2019.61,"fit":-61.5,"lo":-62.9,"hi":-60.1},{"g":"b","s":"10th","t":2019.99,"fit":-64.1,"lo":-65.5,"hi":-62.7},{"g":"b","s":"10th","t":2020.37,"fit":-66.6,"lo":-68.0,"hi":-65.2},{"g":"b","s":"10th","t":2020.75,"fit":-68.2,"lo":-69.6,"hi":-66.8},{"g":"b","s":"10th","t":2021.13,"fit":-69.0,"lo":-70.5,"hi":-67.5},{"g":"b","s":"10th","t":2021.51,"fit":-69.3,"lo":-71.1,"hi":-67.5},{"g":"b","s":"10th","t":2021.95,"fit":-69.4,"lo":-71.9,"hi":-66.9}
],
"ann": [
{"g":"a","k":"lab","t":2016.034,"v":16.6,"txt":"a"},{"g":"a","k":"lab","t":2019.026,"v":16.1,"txt":"Ascending"},
{"g":"a","k":"leg","s":"90th","t":2020.804,"v":16.1,"txt":"90th Percentile"},{"g":"a","k":"leg","s":"50th","t":2020.804,"v":9.4,"txt":"50th Percentile"},{"g":"a","k":"leg","s":"10th","t":2020.804,"v":2.6,"txt":"10th Percentile"},
{"g":"b","k":"lab","t":2016.034,"v":16.6,"txt":"b"},{"g":"b","k":"lab","t":2018.985,"v":16.4,"txt":"Descending"},
{"g":"b","k":"leg","s":"90th","t":2020.766,"v":15.8,"txt":"90th Percentile"},{"g":"b","k":"leg","s":"50th","t":2020.766,"v":9.1,"txt":"50th Percentile"},{"g":"b","k":"leg","s":"10th","t":2020.766,"v":2.5,"txt":"10th Percentile"}
],
"boxes": [
{"g":"a","t":2015.935,"t2":2016.132,"v":20,"v2":12.9},{"g":"a","t":2018.226,"t2":2019.827,"v":19.9,"v2":12.2},
{"g":"b","t":2015.935,"t2":2016.132,"v":20,"v2":13.3},{"g":"b","t":2018.159,"t2":2019.812,"v":19.9,"v2":12.5}
]
},
"vconcat": [
{
"width": 533, "height": 390,
"layer": [
 {"data": {"name": "precip"}, "mark": {"type": "bar", "width": 6.3, "color": "#8080ff", "orient": "vertical"},
  "encoding": {
   "x": {"field": "t", "type": "quantitative", "scale": {"domain": [2015.935, 2022.012], "nice": false, "zero": false},
    "axis": {"orient": "bottom", "title": "Date", "values": [2016, 2017, 2018, 2019, 2020, 2021, 2022], "format": "d", "labelOverlap": false, "labelFlush": false, "labelBound": false, "tickSize": 7, "tickColor": "#000", "tickWidth": 1.5, "domainColor": "#000", "domainWidth": 2, "labelFontSize": 18, "labelColor": "#000", "labelPadding": 1, "titleFontSize": 20, "titleFontWeight": "normal", "titleColor": "#000", "titlePadding": 1}},
   "y": {"field": "p", "type": "quantitative", "scale": {"domain": [0, 300], "nice": false},
   "axis": {"title": "Precipitation (mm)", "titleColor": "#0000ff", "labelColor": "#0000ff", "tickColor": "#0000ff", "domainColor": "#000", "domainWidth": 2, "values": [0,50,100,150,200,250,300], "tickSize": 8, "tickWidth": 1.5, "labelFontSize": 18, "titleFontSize": 21, "titleFontWeight": "normal", "labelPadding": 2, "titlePadding": 10, "titleY": 167, "labelFlush": false}}}},
 {"encoding": {"x": {"field": "t", "type": "quantitative", "scale": {"domain": [2015.935, 2022.012], "nice": false, "zero": false},
    "axis": {"orient": "bottom", "title": null, "labels": false, "domain": false, "values": [2016.0833,2016.1667,2016.25,2016.3333,2016.4167,2016.5,2016.5833,2016.6667,2016.75,2016.8333,2016.9167,2017.0833,2017.1667,2017.25,2017.3333,2017.4167,2017.5,2017.5833,2017.6667,2017.75,2017.8333,2017.9167,2018.0833,2018.1667,2018.25,2018.3333,2018.4167,2018.5,2018.5833,2018.6667,2018.75,2018.8333,2018.9167,2019.0833,2019.1667,2019.25,2019.3333,2019.4167,2019.5,2019.5833,2019.6667,2019.75,2019.8333,2019.9167,2020.0833,2020.1667,2020.25,2020.3333,2020.4167,2020.5,2020.5833,2020.6667,2020.75,2020.8333,2020.9167,2021.0833,2021.1667,2021.25,2021.3333,2021.4167,2021.5,2021.5833,2021.6667,2021.75,2021.8333,2021.9167], "tickSize": 4, "tickColor": "#000", "tickWidth": 1.3}}},
  "layer": [
  {"data": {"name": "fit"}, "transform": [{"filter": "datum.g === 'a'"}], "mark": {"type": "area", "color": "#a0a0a0", "opacity": 0.6, "interpolate": "monotone"},
   "encoding": {"y": {"field": "lo", "type": "quantitative", "scale": {"domain": [-100, 20], "nice": false, "zero": false}, "axis": {"orient": "right", "title": "Deformation (mm)", "titleAngle": -90, "values": [-100,-80,-60,-40,-20,0,20], "labelExpr": "toString(datum.value)", "tickSize": 7, "tickWidth": 1.5, "tickColor": "#000", "labelFontSize": 18, "labelColor": "#000", "titleFontSize": 21, "titleFontWeight": "normal", "titleColor": "#000", "domainColor": "#000", "domainWidth": 2, "labelPadding": 1, "titlePadding": 30, "labelFlush": false}},
    "y2": {"field": "hi"}, "detail": {"field": "s"}}},
  {"data": {"name": "pts"}, "transform": [{"filter": "datum.g === 'a'"}], "mark": {"type": "point", "shape": "circle", "filled": false, "size": 26, "strokeWidth": 1.1, "opacity": 1},
   "encoding": {"y": {"field": "v", "type": "quantitative", "scale": {"domain": [-100, 20], "nice": false, "zero": false}, "axis": {"orient": "right", "title": "Deformation (mm)", "titleAngle": -90, "values": [-100,-80,-60,-40,-20,0,20], "labelExpr": "toString(datum.value)", "tickSize": 7, "tickWidth": 1.5, "tickColor": "#000", "labelFontSize": 18, "labelColor": "#000", "titleFontSize": 21, "titleFontWeight": "normal", "titleColor": "#000", "domainColor": "#000", "domainWidth": 2, "labelPadding": 1, "titlePadding": 30, "labelFlush": false}},
    "color": {"field": "s", "type": "nominal", "scale": {"domain": ["90th", "50th", "10th"], "range": ["#0000ff", "#000000", "#9e1a4a"]}, "legend": null}}},
  {"data": {"name": "fit"}, "transform": [{"filter": "datum.g === 'a'"}], "mark": {"type": "line", "strokeWidth": 3.3, "interpolate": "monotone"},
   "encoding": {"y": {"field": "fit", "type": "quantitative", "scale": {"domain": [-100, 20], "nice": false, "zero": false}, "axis": {"orient": "right", "title": "Deformation (mm)", "titleAngle": -90, "values": [-100,-80,-60,-40,-20,0,20], "labelExpr": "toString(datum.value)", "tickSize": 7, "tickWidth": 1.5, "tickColor": "#000", "labelFontSize": 18, "labelColor": "#000", "titleFontSize": 21, "titleFontWeight": "normal", "titleColor": "#000", "domainColor": "#000", "domainWidth": 2, "labelPadding": 1, "titlePadding": 30, "labelFlush": false}},
    "color": {"field": "s", "type": "nominal", "scale": {"domain": ["90th", "50th", "10th"], "range": ["#0000ff", "#000000", "#9e1a4a"]}, "legend": null}}},
  {"data": {"name": "boxes"}, "transform": [{"filter": "datum.g === 'a'"}], "mark": {"type": "rect", "fill": "#ffffff", "stroke": "#000", "strokeWidth": 1.3},
   "encoding": {"x2": {"field": "t2"}, "y": {"field": "v", "type": "quantitative", "scale": {"domain": [-100, 20], "nice": false, "zero": false}, "axis": {"orient": "right", "title": "Deformation (mm)", "titleAngle": -90, "values": [-100,-80,-60,-40,-20,0,20], "labelExpr": "toString(datum.value)", "tickSize": 7, "tickWidth": 1.5, "tickColor": "#000", "labelFontSize": 18, "labelColor": "#000", "titleFontSize": 21, "titleFontWeight": "normal", "titleColor": "#000", "domainColor": "#000", "domainWidth": 2, "labelPadding": 1, "titlePadding": 30, "labelFlush": false}}, "y2": {"field": "v2"}}},
  {"data": {"name": "ann"}, "transform": [{"filter": "datum.g === 'a' && datum.k === 'lab'"}], "mark": {"type": "text", "font": "DejaVu Sans", "fontWeight": "bold", "fontSize": 20.5, "baseline": "middle", "align": "center", "color": "#000"},
   "encoding": {"y": {"field": "v", "type": "quantitative", "scale": {"domain": [-100, 20], "nice": false, "zero": false}, "axis": {"orient": "right", "title": "Deformation (mm)", "titleAngle": -90, "values": [-100,-80,-60,-40,-20,0,20], "labelExpr": "toString(datum.value)", "tickSize": 7, "tickWidth": 1.5, "tickColor": "#000", "labelFontSize": 18, "labelColor": "#000", "titleFontSize": 21, "titleFontWeight": "normal", "titleColor": "#000", "domainColor": "#000", "domainWidth": 2, "labelPadding": 1, "titlePadding": 30, "labelFlush": false}}, "text": {"field": "txt"}}},
  {"data": {"name": "ann"}, "transform": [{"filter": "datum.g === 'a' && datum.k === 'leg'"}], "mark": {"type": "text", "font": "DejaVu Sans", "fontWeight": "bold", "fontSize": 15.5, "baseline": "middle", "align": "center"},
   "encoding": {"y": {"field": "v", "type": "quantitative", "scale": {"domain": [-100, 20], "nice": false, "zero": false}, "axis": {"orient": "right", "title": "Deformation (mm)", "titleAngle": -90, "values": [-100,-80,-60,-40,-20,0,20], "labelExpr": "toString(datum.value)", "tickSize": 7, "tickWidth": 1.5, "tickColor": "#000", "labelFontSize": 18, "labelColor": "#000", "titleFontSize": 21, "titleFontWeight": "normal", "titleColor": "#000", "domainColor": "#000", "domainWidth": 2, "labelPadding": 1, "titlePadding": 30, "labelFlush": false}}, "text": {"field": "txt"},
    "color": {"field": "s", "type": "nominal", "scale": {"domain": ["90th", "50th", "10th"], "range": ["#0000ff", "#000000", "#9e1a4a"]}, "legend": null}}}
 ]}
],
"resolve": {"scale": {"y": "independent"}, "axis": {"x": "independent"}}
},
{
"width": 533, "height": 388,
"layer": [
 {"data": {"name": "precip"}, "mark": {"type": "bar", "width": 6.3, "color": "#8080ff", "orient": "vertical"},
  "encoding": {
   "x": {"field": "t", "type": "quantitative", "scale": {"domain": [2015.935, 2022.012], "nice": false, "zero": false},
    "axis": {"orient": "bottom", "title": "Date", "values": [2016, 2017, 2018, 2019, 2020, 2021, 2022], "format": "d", "labelOverlap": false, "labelFlush": false, "labelBound": false, "tickSize": 7, "tickColor": "#000", "tickWidth": 1.5, "domainColor": "#000", "domainWidth": 2, "labelFontSize": 18, "labelColor": "#000", "labelPadding": 1, "titleFontSize": 20, "titleFontWeight": "normal", "titleColor": "#000", "titlePadding": 0}},
   "y": {"field": "p", "type": "quantitative", "scale": {"domain": [0, 300], "nice": false},
   "axis": {"title": "Precipitation (mm)", "titleColor": "#0000ff", "labelColor": "#0000ff", "tickColor": "#0000ff", "domainColor": "#000", "domainWidth": 2, "values": [0,50,100,150,200,250,300], "tickSize": 8, "tickWidth": 1.5, "labelFontSize": 18, "titleFontSize": 21, "titleFontWeight": "normal", "labelPadding": 2, "titlePadding": 10, "titleY": 167, "labelFlush": false}}}},
 {"encoding": {"x": {"field": "t", "type": "quantitative", "scale": {"domain": [2015.935, 2022.012], "nice": false, "zero": false},
    "axis": {"orient": "bottom", "title": null, "labels": false, "domain": false, "values": [2016.0833,2016.1667,2016.25,2016.3333,2016.4167,2016.5,2016.5833,2016.6667,2016.75,2016.8333,2016.9167,2017.0833,2017.1667,2017.25,2017.3333,2017.4167,2017.5,2017.5833,2017.6667,2017.75,2017.8333,2017.9167,2018.0833,2018.1667,2018.25,2018.3333,2018.4167,2018.5,2018.5833,2018.6667,2018.75,2018.8333,2018.9167,2019.0833,2019.1667,2019.25,2019.3333,2019.4167,2019.5,2019.5833,2019.6667,2019.75,2019.8333,2019.9167,2020.0833,2020.1667,2020.25,2020.3333,2020.4167,2020.5,2020.5833,2020.6667,2020.75,2020.8333,2020.9167,2021.0833,2021.1667,2021.25,2021.3333,2021.4167,2021.5,2021.5833,2021.6667,2021.75,2021.8333,2021.9167], "tickSize": 4, "tickColor": "#000", "tickWidth": 1.3}}},
  "layer": [
  {"data": {"name": "fit"}, "transform": [{"filter": "datum.g === 'b'"}], "mark": {"type": "area", "color": "#a0a0a0", "opacity": 0.6, "interpolate": "monotone"},
   "encoding": {"y": {"field": "lo", "type": "quantitative", "scale": {"domain": [-100, 20], "nice": false, "zero": false}, "axis": {"orient": "right", "title": "Deformation (mm)", "titleAngle": -90, "values": [-100,-80,-60,-40,-20,0,20], "labelExpr": "toString(datum.value)", "tickSize": 7, "tickWidth": 1.5, "tickColor": "#000", "labelFontSize": 18, "labelColor": "#000", "titleFontSize": 21, "titleFontWeight": "normal", "titleColor": "#000", "domainColor": "#000", "domainWidth": 2, "labelPadding": 1, "titlePadding": 30, "labelFlush": false}},
    "y2": {"field": "hi"}, "detail": {"field": "s"}}},
  {"data": {"name": "pts"}, "transform": [{"filter": "datum.g === 'b'"}], "mark": {"type": "point", "shape": "circle", "filled": false, "size": 26, "strokeWidth": 1.1, "opacity": 1},
   "encoding": {"y": {"field": "v", "type": "quantitative", "scale": {"domain": [-100, 20], "nice": false, "zero": false}, "axis": {"orient": "right", "title": "Deformation (mm)", "titleAngle": -90, "values": [-100,-80,-60,-40,-20,0,20], "labelExpr": "toString(datum.value)", "tickSize": 7, "tickWidth": 1.5, "tickColor": "#000", "labelFontSize": 18, "labelColor": "#000", "titleFontSize": 21, "titleFontWeight": "normal", "titleColor": "#000", "domainColor": "#000", "domainWidth": 2, "labelPadding": 1, "titlePadding": 30, "labelFlush": false}},
    "color": {"field": "s", "type": "nominal", "scale": {"domain": ["90th", "50th", "10th"], "range": ["#0000ff", "#000000", "#9e1a4a"]}, "legend": null}}},
  {"data": {"name": "fit"}, "transform": [{"filter": "datum.g === 'b'"}], "mark": {"type": "line", "strokeWidth": 3.3, "interpolate": "monotone"},
   "encoding": {"y": {"field": "fit", "type": "quantitative", "scale": {"domain": [-100, 20], "nice": false, "zero": false}, "axis": {"orient": "right", "title": "Deformation (mm)", "titleAngle": -90, "values": [-100,-80,-60,-40,-20,0,20], "labelExpr": "toString(datum.value)", "tickSize": 7, "tickWidth": 1.5, "tickColor": "#000", "labelFontSize": 18, "labelColor": "#000", "titleFontSize": 21, "titleFontWeight": "normal", "titleColor": "#000", "domainColor": "#000", "domainWidth": 2, "labelPadding": 1, "titlePadding": 30, "labelFlush": false}},
    "color": {"field": "s", "type": "nominal", "scale": {"domain": ["90th", "50th", "10th"], "range": ["#0000ff", "#000000", "#9e1a4a"]}, "legend": null}}},
  {"data": {"name": "boxes"}, "transform": [{"filter": "datum.g === 'b'"}], "mark": {"type": "rect", "fill": "#ffffff", "stroke": "#000", "strokeWidth": 1.3},
   "encoding": {"x2": {"field": "t2"}, "y": {"field": "v", "type": "quantitative", "scale": {"domain": [-100, 20], "nice": false, "zero": false}, "axis": {"orient": "right", "title": "Deformation (mm)", "titleAngle": -90, "values": [-100,-80,-60,-40,-20,0,20], "labelExpr": "toString(datum.value)", "tickSize": 7, "tickWidth": 1.5, "tickColor": "#000", "labelFontSize": 18, "labelColor": "#000", "titleFontSize": 21, "titleFontWeight": "normal", "titleColor": "#000", "domainColor": "#000", "domainWidth": 2, "labelPadding": 1, "titlePadding": 30, "labelFlush": false}}, "y2": {"field": "v2"}}},
  {"data": {"name": "ann"}, "transform": [{"filter": "datum.g === 'b' && datum.k === 'lab'"}], "mark": {"type": "text", "font": "DejaVu Sans", "fontWeight": "bold", "fontSize": 20.5, "baseline": "middle", "align": "center", "color": "#000"},
   "encoding": {"y": {"field": "v", "type": "quantitative", "scale": {"domain": [-100, 20], "nice": false, "zero": false}, "axis": {"orient": "right", "title": "Deformation (mm)", "titleAngle": -90, "values": [-100,-80,-60,-40,-20,0,20], "labelExpr": "toString(datum.value)", "tickSize": 7, "tickWidth": 1.5, "tickColor": "#000", "labelFontSize": 18, "labelColor": "#000", "titleFontSize": 21, "titleFontWeight": "normal", "titleColor": "#000", "domainColor": "#000", "domainWidth": 2, "labelPadding": 1, "titlePadding": 30, "labelFlush": false}}, "text": {"field": "txt"}}},
  {"data": {"name": "ann"}, "transform": [{"filter": "datum.g === 'b' && datum.k === 'leg'"}], "mark": {"type": "text", "font": "DejaVu Sans", "fontWeight": "bold", "fontSize": 15.5, "baseline": "middle", "align": "center"},
   "encoding": {"y": {"field": "v", "type": "quantitative", "scale": {"domain": [-100, 20], "nice": false, "zero": false}, "axis": {"orient": "right", "title": "Deformation (mm)", "titleAngle": -90, "values": [-100,-80,-60,-40,-20,0,20], "labelExpr": "toString(datum.value)", "tickSize": 7, "tickWidth": 1.5, "tickColor": "#000", "labelFontSize": 18, "labelColor": "#000", "titleFontSize": 21, "titleFontWeight": "normal", "titleColor": "#000", "domainColor": "#000", "domainWidth": 2, "labelPadding": 1, "titlePadding": 30, "labelFlush": false}}, "text": {"field": "txt"},
    "color": {"field": "s", "type": "nominal", "scale": {"domain": ["90th", "50th", "10th"], "range": ["#0000ff", "#000000", "#9e1a4a"]}, "legend": null}}}
 ]}
],
"resolve": {"scale": {"y": "independent"}, "axis": {"x": "independent"}}
}
]
}
